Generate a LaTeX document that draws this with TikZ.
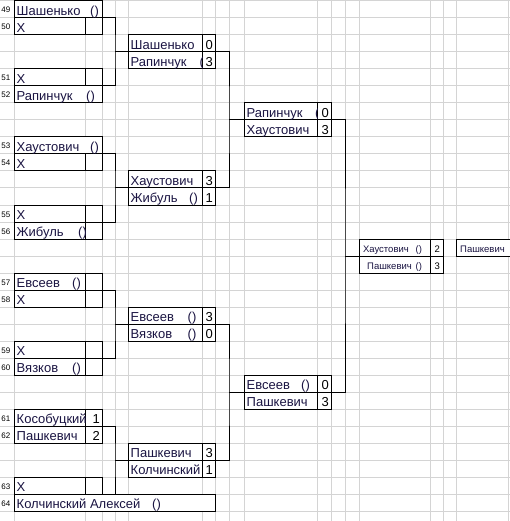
\documentclass[tikz,border=0pt]{standalone}
\usepackage{fontspec}
\setmainfont{Liberation Sans}
\definecolor{gridc}{RGB}{212,212,212}
\definecolor{namec}{RGB}{26,20,66}
\tikzset{
  gridline/.style={draw=gridc, line width=1pt},
  cellbox/.style={draw=black, line width=1pt, fill=white},
  conn/.style={draw=black, line width=1pt},
  nm/.style={anchor=base west, inner sep=0pt, text=namec, font=\fontsize{13}{13}\selectfont},
  sc/.style={anchor=base east, inner sep=0pt, text=black, font=\fontsize{13}{13}\selectfont},
  rn/.style={anchor=base west, inner sep=0pt, text=black, font=\fontsize{8}{8}\selectfont},
  smn/.style={anchor=base east, inner sep=0pt, text=namec, font=\fontsize{9.5}{9.5}\selectfont},
  smw/.style={anchor=base west, inner sep=0pt, text=namec, font=\fontsize{9.5}{9.5}\selectfont},
  sms/.style={anchor=base east, inner sep=0pt, text=black, font=\fontsize{9.5}{9.5}\selectfont},
}
\begin{document}
\begin{tikzpicture}[x=1pt,y=-1pt]
\useasboundingbox (0,0) rectangle (510,521);
% grid
\foreach \yy in {1,18,...,520} \draw[gridline] (0,\yy) -- (510,\yy);
\foreach \xx in {14,85,102,115,128,202,215,229,244,317,331,345,359,430,443,456,508}
  \draw[gridline] (\xx,0) -- (\xx,521);

% ---- round 1 boxes ----
\draw[cellbox] (14,1) rectangle (102,18);
\draw[cellbox] (14,18) rectangle (102,35); \draw[conn] (85,18) -- (85,35);
\draw[cellbox] (14,69) rectangle (102,86); \draw[conn] (85,69) -- (85,86);
\draw[cellbox] (14,86) rectangle (102,103);
\draw[cellbox] (14,137) rectangle (102,154);
\draw[cellbox] (14,154) rectangle (102,171); \draw[conn] (85,154) -- (85,171);
\draw[cellbox] (14,205) rectangle (102,239); \draw[conn] (14,222) -- (102,222); \draw[conn] (85,205) -- (85,239);
\draw[cellbox] (14,273) rectangle (102,307); \draw[conn] (14,290) -- (102,290); \draw[conn] (85,273) -- (85,307);
\draw[cellbox] (14,341) rectangle (102,375); \draw[conn] (14,358) -- (102,358); \draw[conn] (85,341) -- (85,375);
\draw[cellbox] (14,409) rectangle (102,443); \draw[conn] (14,426) -- (102,426); \draw[conn] (85,409) -- (85,443);
\draw[cellbox] (14,477) rectangle (102,494); \draw[conn] (85,477) -- (85,494);
\draw[cellbox] (14,494) rectangle (215,511);

% ---- round 2 boxes ----
\foreach \t in {35,171,307,443} {
  \draw[cellbox] (128,\t) rectangle (215,\t+34);
  \draw[conn] (128,\t+17) -- (215,\t+17);
  \draw[conn] (202,\t) -- (202,\t+34);
}
% ---- round 3 boxes ----
\foreach \t in {103,375} {
  \draw[cellbox] (244,\t) rectangle (331,\t+34);
  \draw[conn] (244,\t+17) -- (331,\t+17);
  \draw[conn] (317,\t) -- (317,\t+34);
}
% ---- final ----
\draw[cellbox] (359,239) rectangle (443,273);
\draw[conn] (359,256) -- (443,256);
\draw[conn] (430,239) -- (430,273);
\draw[cellbox] (456,239) rectangle (514,256);

% ---- connector coordinates ----
\coordinate (t1) at (102,18);  \coordinate (b1) at (102,86);  \coordinate (j1) at (115,52);  \coordinate (f1) at (128,52);
\coordinate (t2) at (102,154); \coordinate (b2) at (102,222); \coordinate (j2) at (115,188); \coordinate (f2) at (128,188);
\coordinate (t3) at (102,290); \coordinate (b3) at (102,358); \coordinate (j3) at (115,324); \coordinate (f3) at (128,324);
\coordinate (t4) at (102,426); \coordinate (b4) at (102,494); \coordinate (j4) at (115,460); \coordinate (f4) at (128,460);
\coordinate (u1) at (215,52);  \coordinate (w1) at (215,188); \coordinate (k1) at (229,120); \coordinate (g1) at (244,120);
\coordinate (u2) at (215,324); \coordinate (w2) at (215,460); \coordinate (k2) at (229,392); \coordinate (g2) at (244,392);
\coordinate (s1) at (331,120); \coordinate (s2) at (331,392); \coordinate (kf) at (345,256); \coordinate (ff) at (359,256);

\foreach \i in {1,2,3,4} {
  \draw[conn] (t\i) -| (j\i) |- (b\i);
  \draw[conn] (j\i) -- (f\i);
}
\foreach \i in {1,2} {
  \draw[conn] (u\i) -| (k\i) |- (w\i);
  \draw[conn] (k\i) -- (g\i);
}
\draw[conn] (s1) -| (kf) |- (s2);
\draw[conn] (kf) -- (ff);

% ---- row numbers ----
\node[rn] (r49) at (1.3,13) {49};
\node[rn] (r50) at (1.3,30) {50};
\node[rn] (r51) at (1.3,81) {51};
\node[rn] (r52) at (1.3,98) {52};
\node[rn] (r53) at (1.3,149) {53};
\node[rn] (r54) at (1.3,166) {54};
\node[rn] (r55) at (1.3,217) {55};
\node[rn] (r56) at (1.3,234) {56};
\node[rn] (r57) at (1.3,285) {57};
\node[rn] (r58) at (1.3,302) {58};
\node[rn] (r59) at (1.3,353) {59};
\node[rn] (r60) at (1.3,370) {60};
\node[rn] (r61) at (1.3,421) {61};
\node[rn] (r62) at (1.3,438) {62};
\node[rn] (r63) at (1.3,489) {63};
\node[rn] (r64) at (1.3,506) {64};

% ---- round 1 names ----
\node[nm] (a49) at (16.5,15.5) {Шашенько};   \node[nm] (p49) at (90,15.5) {()};
\node[nm] (a50) at (16.5,32.5) {X};
\node[nm] (a51) at (16.5,83.5) {X};
\node[nm] (a52) at (16.5,100.5) {Рапинчук};  \node[nm] (p52) at (86,100.5) {()};
\node[nm] (a53) at (16.5,151.5) {Хаустович}; \node[nm] (p53) at (90,151.5) {()};
\node[nm] (a54) at (16.5,168.5) {X};
\node[nm] (a55) at (16.5,219.5) {X};
\node[nm] (a56) at (16.5,236.5) {Жибуль};    \node[nm] (p56) at (78,236.5) {()};
\node[nm] (a57) at (16.5,287.5) {Евсеев};    \node[nm] (p57) at (72,287.5) {()};
\node[nm] (a58) at (16.5,304.5) {X};
\node[nm] (a59) at (16.5,355.5) {X};
\node[nm] (a60) at (16.5,372.5) {Вязков};    \node[nm] (p60) at (72,372.5) {()};
\begin{scope}
  \clip (14,409) rectangle (85,426);
  \node[nm] (a61) at (16.5,423.5) {Кособуцкий};
\end{scope}
\node[sc] (c61) at (100,423.5) {1};
\node[nm] (a62) at (16.5,440.5) {Пашкевич};
\node[sc] (c62) at (100,440.5) {2};
\node[nm] (a63) at (16.5,491.5) {X};
\node[nm] (a64) at (16.5,508.5) {Колчинский Алексей}; \node[nm] (p64) at (152,508.5) {()};

% ---- round 2 ----
\node[nm] (f2a) at (130.5,49.5) {Шашенько};  \node[sc] (f2s) at (213,49.5) {0};
\begin{scope}
  \clip (128,52) rectangle (202,69);
  \node[nm] (f3a) at (130.5,66.5) {Рапинчук};
  \node[nm] (f3p) at (199.5,66.5) {(};
\end{scope}
\node[sc] (f3s) at (213,66.5) {3};
\node[nm] (f10a) at (130.5,185.5) {Хаустович}; \node[sc] (f10s) at (213,185.5) {3};
\node[nm] (f11a) at (130.5,202.5) {Жибуль}; \node[nm] (f11p) at (189,202.5) {()}; \node[sc] (f11s) at (213,202.5) {1};
\node[nm] (f18a) at (130.5,321.5) {Евсеев}; \node[nm] (f18p) at (187.5,321.5) {()}; \node[sc] (f18s) at (213,321.5) {3};
\node[nm] (f19a) at (130.5,338.5) {Вязков}; \node[nm] (f19p) at (187.5,338.5) {()}; \node[sc] (f19s) at (213,338.5) {0};
\node[nm] (f26a) at (130.5,457.5) {Пашкевич}; \node[sc] (f26s) at (213,457.5) {3};
\begin{scope}
  \clip (128,460) rectangle (202,477);
  \node[nm] (f27a) at (130.5,474.5) {Колчинский};
\end{scope}
\node[sc] (f27s) at (213,474.5) {1};

% ---- round 3 ----
\begin{scope}
  \clip (244,103) rectangle (317,120);
  \node[nm] (j6a) at (246.5,117.5) {Рапинчук};
  \node[nm] (j6p) at (315,117.5) {(};
\end{scope}
\node[sc] (j6s) at (329,117.5) {0};
\node[nm] (j7a) at (246.5,134.5) {Хаустович}; \node[sc] (j7s) at (329,134.5) {3};
\node[nm] (j22a) at (246.5,389.5) {Евсеев}; \node[nm] (j22p) at (301,389.5) {()}; \node[sc] (j22s) at (329,389.5) {0};
\node[nm] (j23a) at (246.5,406.5) {Пашкевич}; \node[sc] (j23s) at (329,406.5) {3};

% ---- final ----
\node[smn] (q14a) at (409,252.5) {Хаустович}; \node[smw] (q14p) at (415.5,252.5) {()}; \node[sms] (q14s) at (440,252.5) {2};
\node[smn] (q15a) at (412,269.5) {Пашкевич};  \node[smw] (q15p) at (415.5,269.5) {()}; \node[sms] (q15s) at (440,269.5) {3};
\node[smw] (win) at (460,252.5) {Пашкевич};
\end{tikzpicture}
\end{document}
